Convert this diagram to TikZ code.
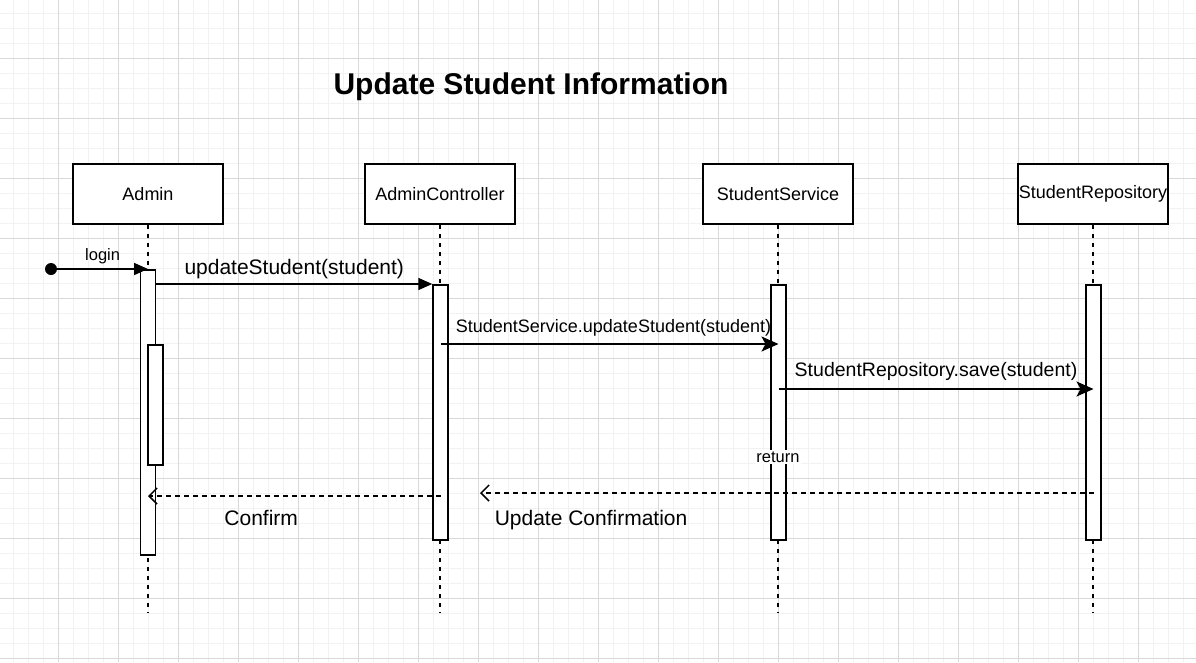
\documentclass[tikz,border=0pt]{standalone}
\usepackage{fontspec}
\setmainfont{Liberation Sans}
\usetikzlibrary{
  arrows.meta,
  positioning,
}
\newcommand{\fnt}[1]{\fontsize{#1}{#1}\selectfont}
\def\myheadw{150}
\def\myheadh{60}
\def\mybarw{15}
\def\mylinebot{613}
\tikzset{
  font={\fnt{18}},
  x=1pt,
  y=-1pt,
  my head/.style={
    draw,
    line width=1.5pt,
    fill=white,
    minimum width=\myheadw,
    minimum height=\myheadh,
    inner sep=0mm,
    rectangle
  },
  my lifeline/.style={
    line width=1.5pt,
    dash pattern=on 4.5pt off 4.5pt
  },
  my bar/.style={
    draw,
    line width=1.5pt,
    fill=white,
    minimum width=\mybarw,
    inner sep=0mm,
    anchor=north,
    rectangle
  },
  my call/.style={
    line width=1.7pt,
    -{Triangle[length=14pt,width=12pt]}
  },
  my sync/.style={
    line width=1.7pt,
    -{Stealth[length=17pt,width=15pt,inset=4pt]}
  },
  my reply/.style={
    line width=1.3pt,
    dash pattern=on 4.5pt off 4.5pt,
    -{Straight Barb[length=8pt,width=16pt,line width=1.5pt]}
  },
  my start/.style={
    circle,
    fill=black,
    minimum size=12,
    inner sep=0mm
  },
  grid minor/.style={draw=black!5, line width=1pt},
  grid major/.style={draw=black!15, line width=1pt},
}

\begin{document}
\begin{tikzpicture}
\useasboundingbox[fill=white] (0,0) rectangle (1196,662);
% background grid
\foreach \g in {13,28,...,1193} \draw[grid minor] (\g,0) -- (\g,662);
\foreach \g in {13,28,...,658} \draw[grid minor] (0,\g) -- (1196,\g);
\foreach \g in {58,118,...,1138} \draw[grid major] (\g,0) -- (\g,662);
\foreach \g in {58,118,...,658} \draw[grid major] (0,\g) -- (1196,\g);

\node[font={\fnt{30}\bfseries}] (title) at (531,87) {Update Student Information};

% participants
\node[my head] (admin) at (148,194)  {Admin};
\node[my head] (ctrl)  at (440,194)  {AdminController};
\node[my head] (svc)   at (778,194)  {StudentService};
\node[my head] (repo)  at (1093,194) {StudentRepository};
\foreach \n/\x in {admin/148, ctrl/440, svc/778, repo/1093} {
  \coordinate (\n end) at (\x,\mylinebot);
  \draw[my lifeline] (\n.south) -- (\n end);
}

% activations
\node[my bar, minimum height=285] (adminbar) at (148,269)    {};
\node[my bar, minimum height=120] (adminsub) at (155.5,344)  {};
\node[my bar, minimum height=255] (ctrlbar)  at (440.5,284)  {};
\node[my bar, minimum height=255] (svcbar)   at (778.5,284)  {};
\node[my bar, minimum height=255] (repobar)  at (1093.5,284) {};

% messages
\coordinate (row3) at (0,344);
\coordinate (row4) at (0,389);
\coordinate (row5) at (0,493);
\coordinate (row6) at (0,496);
\coordinate (retend) at (480,493);
\node[my start] (start) at (51,269) {};
\draw[my call] (start) -- node[anchor=base,yshift=9pt,font={\fnt{16.5}}] {login} (adminbar.north);
\draw[my call] (adminbar.east |- ctrlbar.north) -- node[anchor=base,yshift=10pt,font={\fnt{21}}] {updateStudent(student)} (ctrlbar.north west);
\draw[my sync] (ctrlbar.center |- row3) -- node[anchor=base,xshift=4pt,yshift=12pt] {StudentService.updateStudent(student)} (svcbar.center |- row3);
\draw[my sync] (svcbar.center |- row4) -- node[anchor=base,yshift=13pt,font={\fnt{19.5}}] {StudentRepository.save(student)} (repobar.center |- row4);
\draw[my reply] (repobar.center |- row5) -- node[pos=0.819,anchor=base,yshift=-32pt,font={\fnt{21}}] {Update Confirmation} (retend);
\draw[my reply] (ctrlbar.center |- row6) -- node[pos=0.613,anchor=base,yshift=-29pt,font={\fnt{21}}] {Confirm} (adminbar.center |- row6);
\node[fill=white, inner sep=1.5pt, font={\fnt{16.5}}] (retlabel) at (778,457) {return};
\end{tikzpicture}
\end{document}
